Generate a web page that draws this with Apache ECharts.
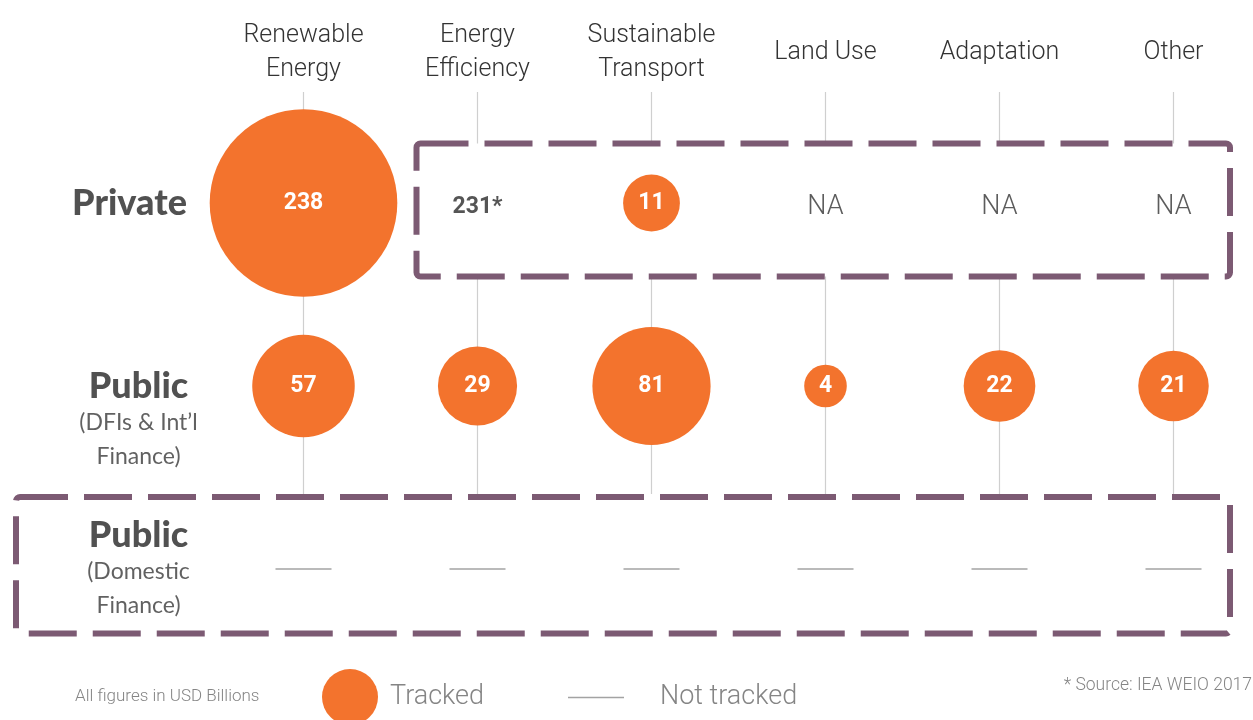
<!DOCTYPE html>
<html>
<head>
<meta charset="utf-8">
<script src="https://cdn.jsdelivr.net/npm/echarts@6/dist/echarts.min.js"></script>
<style>
  html, body { margin: 0; padding: 0; background: #fff; }
  #chart { width: 1253px; height: 720px; }
</style>
</head>
<body>
<div id="chart"></div>
<script>
// categories (columns) and rows
const categories = ['Renewable\nEnergy', 'Energy\nEfficiency', 'Sustainable\nTransport', 'Land Use', 'Adaptation', 'Other'];
const rowNames = ['Private', 'Public', 'Public'];
const rowNotes = [[], ['(DFIs & Int\u2019l', 'Finance)'], ['(Domestic', 'Finance)']];

// USD billions; null = not tracked / not available
const privateTracked = [238, null, 11, null, null, null];
const privateExternal = [null, 231, null, null, null, null]; // IEA WEIO 2017 estimate
const publicIntl = [57, 29, 81, 4, 22, 21];
const publicDomestic = [null, null, null, null, null, null];

const THIN = "Roboto, 'DejaVu Sans Condensed', sans-serif";
const ORANGE = '#F3732D';
const PURPLE = '#7C5A73';
const GRID_GRAY = '#cfcfcf';

// build series data from the arrays
const bubbleData = [];
privateTracked.forEach((v, i) => { if (v != null) bubbleData.push([i, 0, v]); });
publicIntl.forEach((v, i) => { if (v != null) bubbleData.push([i, 1, v]); });

const privateTextData = [];
privateTracked.forEach((v, i) => {
  if (v == null) privateTextData.push([i, 0, privateExternal[i]]);
});

const notTrackedData = [];
publicDomestic.forEach((v, i) => { if (v == null) notTrackedData.push([i, 2]); });

const rowLabelOffsets = [[0, 0], [9, 34], [9, 0]];
const rowLabelData = rowNames.map((n, r) => ({
  value: [-1, r],
  label: { offset: rowLabelOffsets[r] }
}));

const chart = echarts.init(document.getElementById('chart'));

const option = {
  animation: false,
  backgroundColor: '#fff',
  grid: { left: 303.5, right: 79.5, top: 92, bottom: 226 },
  xAxis: {
    type: 'value',
    position: 'top',
    min: 0,
    max: 5,
    interval: 1,
    axisLine: { show: false },
    axisTick: { show: false },
    splitLine: { show: true, lineStyle: { color: GRID_GRAY, width: 1.2 } },
    axisLabel: {
      margin: 39,
      verticalAlign: 'middle',
      fontFamily: THIN,
      fontWeight: 300,
      fontSize: 25,
      lineHeight: 34,
      color: '#333',
      formatter: v => categories[v] || ''
    }
  },
  yAxis: {
    type: 'value',
    inverse: true,
    min: -0.6066,
    max: 1.5902,
    show: false
  },
  legend: [
    {
      data: [{ name: 'Tracked', icon: 'circle' }],
      left: 317, top: 664,
      itemWidth: 56, itemHeight: 56,
      selectedMode: false,
      textStyle: { fontFamily: THIN, fontWeight: 300, fontSize: 27, color: '#858585', padding: [0, 0, 0, 7] }
    },
    {
      data: [{ name: 'Not tracked', icon: 'path://M0,0H56V1.5H0Z' }],
      left: 563, top: 679,
      itemWidth: 56, itemHeight: 56,
      selectedMode: false,
      textStyle: { fontFamily: THIN, fontWeight: 300, fontSize: 27, color: '#858585', padding: [0, 0, 0, 31] }
    }
  ],
  graphic: [
    {
      type: 'rect', z: 1, silent: true,
      shape: { x: 416.5, y: 143.5, width: 813.5, height: 133, r: 4 },
      style: { fill: '#fff', stroke: PURPLE, lineWidth: 6, lineDash: [48, 16] }
    },
    {
      type: 'rect', z: 1, silent: true,
      shape: { x: 16, y: 497, width: 1214, height: 136.5, r: 4 },
      style: { fill: '#fff', stroke: PURPLE, lineWidth: 6, lineDash: [48, 16] }
    },
    {
      type: 'text', left: 75, top: 688, z: 5,
      style: { text: 'All figures in USD Billions', fontFamily: THIN, fontWeight: 300, fontSize: 17, fill: '#858585' }
    },
    {
      type: 'text', right: 1, top: 677, z: 5,
      style: { text: '* Source: IEA WEIO 2017', fontFamily: THIN, fontWeight: 300, fontSize: 17.5, fill: '#858585' }
    }
  ],
  series: [
    {
      // horizontal guide for the public (international) row
      name: 'guide',
      type: 'scatter',
      z: 1,
      clip: false,
      silent: true,
      data: [],
      markLine: {
        silent: true,
        symbol: 'none',
        label: { show: false },
        lineStyle: { color: GRID_GRAY, width: 1.2, type: 'solid' },
        data: [[{ coord: [-0.566, 1] }, { coord: [5.325, 1] }]]
      }
    },
    {
      name: 'Tracked',
      type: 'scatter',
      z: 3,
      clip: false,
      data: bubbleData,
      symbol: 'circle',
      symbolSize: d => 21 + 10.8 * Math.sqrt(d[2]),
      itemStyle: { color: ORANGE, opacity: 1 },
      label: {
        show: true,
        position: 'inside',
        formatter: p => p.value[2],
        fontFamily: THIN,
        fontWeight: 'bold',
        fontSize: 23,
        color: '#fff'
      }
    },
    {
      name: 'Not tracked',
      type: 'scatter',
      z: 3,
      clip: false,
      data: notTrackedData,
      symbol: 'rect',
      symbolSize: [56, 1.5],
      itemStyle: { color: '#8c8c8c' }
    },
    {
      name: 'privateText',
      type: 'scatter',
      z: 4,
      clip: false,
      data: privateTextData,
      symbolSize: 1,
      itemStyle: { color: 'transparent' },
      label: {
        show: true,
        position: 'inside',
        offset: [0, 4],
        formatter: p => p.value[2] != null ? '{n|' + p.value[2] + '*}' : '{na|NA}',
        rich: {
          n: { fontFamily: THIN, fontWeight: 'bold', fontSize: 23, color: '#2a2a2a' },
          na: { fontFamily: THIN, fontWeight: 300, fontSize: 27, color: '#333' }
        }
      }
    },
    {
      name: 'rowLabels',
      type: 'scatter',
      z: 4,
      clip: false,
      data: rowLabelData,
      symbolSize: 1,
      itemStyle: { color: 'transparent' },
      label: {
        show: true,
        position: 'inside',
        align: 'center',
        formatter: p => {
          const r = p.value[1];
          const lines = ['{b|' + rowNames[r] + '}'];
          rowNotes[r].forEach(t => lines.push('{s|' + t + '}'));
          return lines.join('\n');
        },
        rich: {
          b: { fontFamily: 'Lato', fontWeight: 900, fontSize: 36, color: '#262626', lineHeight: 40, align: 'center' },
          s: { fontFamily: 'Lato', fontSize: 23, color: '#3a3a3a', lineHeight: 34, align: 'center' }
        }
      }
    }
  ]
};

chart.setOption(option);

window.addEventListener('resize', () => {
  chart.resize();
});
</script>
</body>
</html>
